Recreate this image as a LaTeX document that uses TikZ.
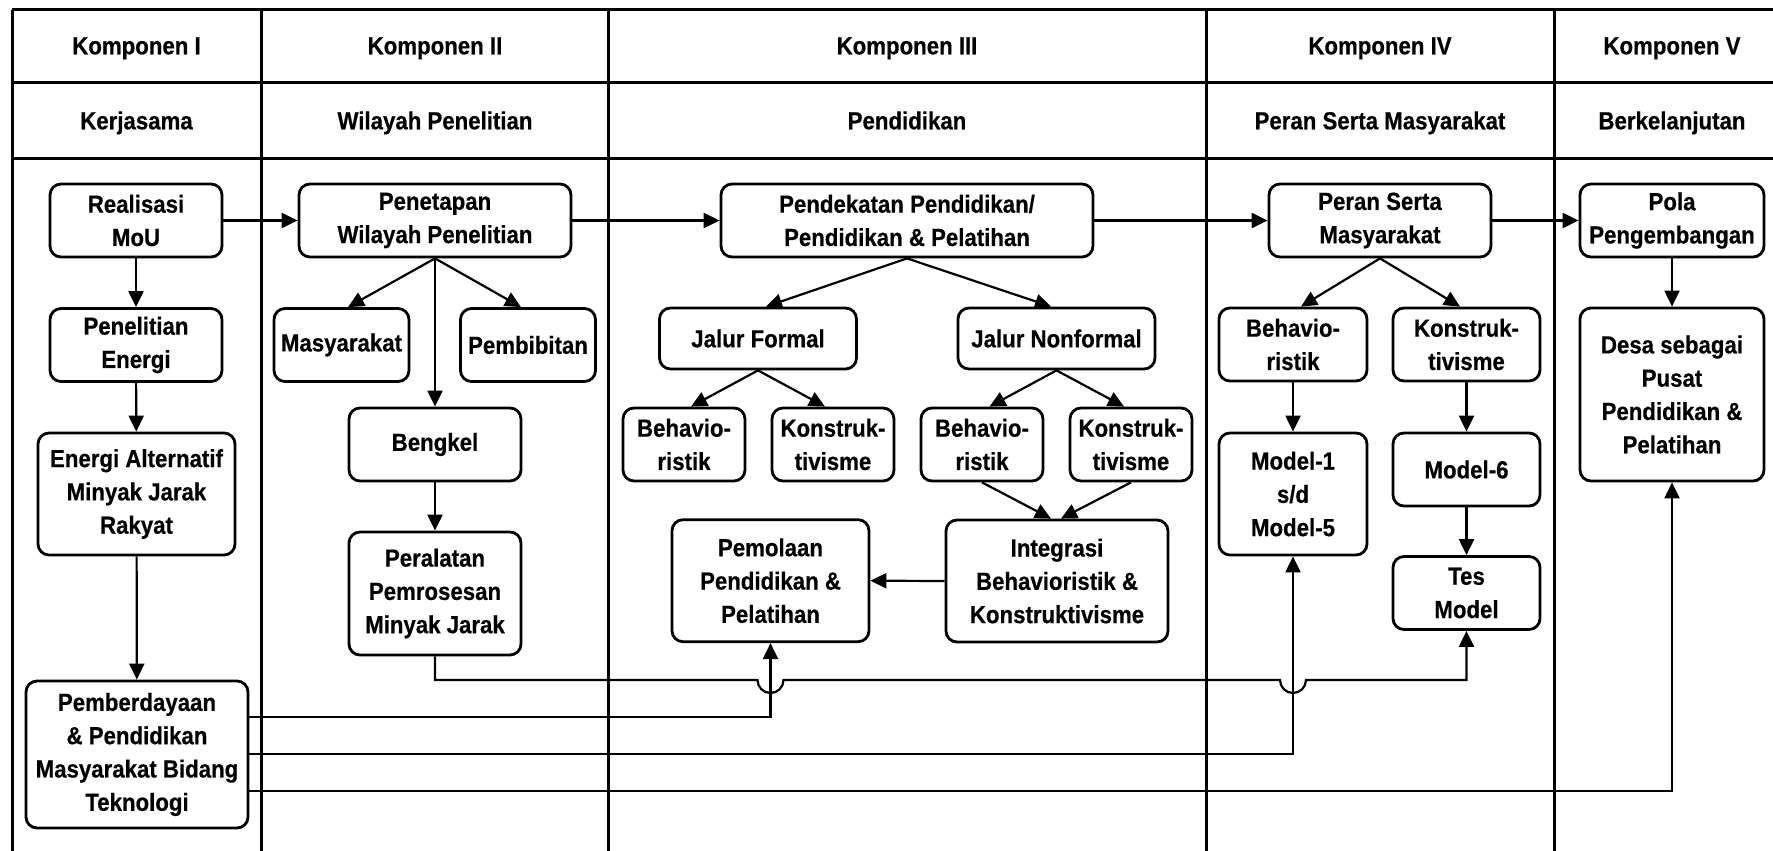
\documentclass[tikz,border=0pt]{standalone}
\usepackage{fontspec}
\newfontfamily\narrowsans{Liberation Sans}[FakeStretch=0.9,FakeBold=0.5]
\usetikzlibrary{arrows.meta,calc}
\newcommand\diagfont{\narrowsans\bfseries\fontsize{24.7pt}{33.3pt}\selectfont}

\begin{document}
\begin{tikzpicture}[x=1pt,y=-1pt,
  frame/.style={line width=3pt},
  box/.style={draw, line width=2.8pt, rounded corners=11pt, align=center,
    inner sep=0pt, font=\diagfont},
  head/.style={font=\diagfont, anchor=base},
  link/.style={line width=2.2pt, -{Triangle[length=16pt,width=15pt]}},
]
\useasboundingbox (0,0) rectangle (1773,851);

% table frame
\draw[frame] (12,10) -- (1792,10);
\draw[frame] (12,83) -- (1792,83);
\draw[frame] (12,158) -- (1792,158);
\foreach \cx in {12,261,608,1206,1554,1792}
  \draw[frame] (\cx,10) -- (\cx,858);

% column headings
\node[head] (h1) at (136.5,54.3) {Komponen I};
\node[head] (h2) at (435,54.3) {Komponen II};
\node[head] (h3) at (907,54.3) {Komponen III};
\node[head] (h4) at (1380,54.3) {Komponen IV};
\node[head] (h5) at (1672,54.3) {Komponen V};
\node[head] (s1) at (136.5,129.3) {Kerjasama};
\node[head] (s2) at (435,129.3) {Wilayah Penelitian};
\node[head] (s3) at (907,129.3) {Pendidikan};
\node[head] (s4) at (1380,129.3) {Peran Serta Masyarakat};
\node[head] (s5) at (1672,129.3) {Berkelanjutan};

% Komponen I
\node[box, minimum width=172, minimum height=73] (mou) at (136,220.5) {Realisasi\\MoU};
\node[box, minimum width=172, minimum height=73] (pen) at (136,345) {Penelitian\\Energi};
\node[box, minimum width=197, minimum height=122] (ener) at (136.5,494) {Energi Alternatif\\Minyak Jarak\\Rakyat};
\node[box, minimum width=222, minimum height=147] (pemb) at (137,754.5) {Pemberdayaan\\\& Pendidikan\\Masyarakat Bidang\\Teknologi};

% Komponen II
\node[box, minimum width=272, minimum height=73] (pwp) at (435,220.5) {Penetapan\\Wilayah Penelitian};
\node[box, minimum width=135, minimum height=73] (masy) at (341.5,345) {Masyarakat};
\node[box, minimum width=135, minimum height=73] (bibit) at (528,345) {Pembibitan};
\node[box, minimum width=172, minimum height=73] (bengkel) at (435,444.5) {Bengkel};
\node[box, minimum width=172, minimum height=123] (peral) at (435,593.5) {Peralatan\\Pemrosesan\\Minyak Jarak};

% Komponen III
\node[box, minimum width=372, minimum height=73] (pend) at (907,220.5) {Pendekatan Pendidikan/\\Pendidikan \& Pelatihan};
\node[box, minimum width=197, minimum height=61] (jf) at (758,338.5) {Jalur Formal};
\node[box, minimum width=197, minimum height=61] (jn) at (1056.5,338.5) {Jalur Nonformal};
\node[box, minimum width=122, minimum height=73] (fb) at (684,444.5) {Behavio-\\ristik};
\node[box, minimum width=122, minimum height=73] (fk) at (833,444.5) {Konstruk-\\tivisme};
\node[box, minimum width=122, minimum height=73] (nb) at (982,444.5) {Behavio-\\ristik};
\node[box, minimum width=122, minimum height=73] (nk) at (1131,444.5) {Konstruk-\\tivisme};
\node[box, minimum width=197, minimum height=122] (pemol) at (770.5,580.7) {Pemolaan\\Pendidikan \&\\Pelatihan};
\node[box, minimum width=222, minimum height=122] (integ) at (1057,581) {Integrasi\\Behavioristik \&\\Konstruktivisme};

% Komponen IV
\node[box, minimum width=222, minimum height=73] (psm) at (1380,220.5) {Peran Serta\\Masyarakat};
\node[box, minimum width=148, minimum height=73] (mb) at (1293,344.5) {Behavio-\\ristik};
\node[box, minimum width=147, minimum height=73] (mk) at (1466.5,344.5) {Konstruk-\\tivisme};
\node[box, minimum width=148, minimum height=122] (m15) at (1293,494) {Model-1\\s/d\\Model-5};
\node[box, minimum width=147, minimum height=73] (m6) at (1466.5,469.5) {Model-6};
\node[box, minimum width=147, minimum height=73] (tes) at (1466.5,593) {Tes\\Model};

% Komponen V
\node[box, minimum width=184, minimum height=73] (pola) at (1672,220.5) {Pola\\Pengembangan};
\node[box, minimum width=184, minimum height=173] (desa) at (1672,394.5) {Desa sebagai\\Pusat\\Pendidikan \&\\Pelatihan};

% main flow across the components
\draw[link] (mou.east) -- (pwp.west);
\draw[link] (pwp.east) -- (pend.west);
\draw[link] (pend.east) -- (psm.west);
\draw[link] (psm.east) -- (pola.west);

% Komponen I chain
\draw[link] (mou) -- (pen);
\draw[link] (pen) -- (ener);
\draw[link] (ener) -- (pemb);

% Komponen II branches
\draw[link] (pwp.south) -- ($(masy.north)+(6.5,0)$);
\draw[link] (pwp.south) -- ($(bibit.north)+(-7,0)$);
\draw[link] (pwp) -- (bengkel);
\draw[link] (bengkel) -- (peral);

% Komponen III branches
\draw[link] (pend.south) -- ($(jf.north)+(8,0)$);
\draw[link] (pend.south) -- ($(jn.north)+(-5.5,0)$);
\draw[link] (jf.south) -- ($(fb.north)+(7,0)$);
\draw[link] (jf.south) -- ($(fk.north)+(-8,0)$);
\draw[link] (jn.south) -- ($(nb.north)+(7.5,0)$);
\draw[link] (jn.south) -- ($(nk.north)+(-7,0)$);
\draw[link] (nb.south) -- ($(integ.north)+(-6,0)$);
\draw[link] (nk.south) -- ($(integ.north)+(4,0)$);
\draw[link] (integ.west) -- (pemol.east);

% Komponen IV branches
\draw[link] (psm.south) -- ($(mb.north)+(8,0)$);
\draw[link] (psm.south) -- ($(mk.north)+(-6.5,0)$);
\draw[link] (mb) -- (m15);
\draw[link] (mk) -- (m6);
\draw[link] (m6) -- (tes);

% Komponen V
\draw[link] (pola) -- (desa);

% bottom bus lines
\coordinate (busA) at (0,680);
\coordinate (busB) at (0,717);
\coordinate (busC) at (0,754.3);
\coordinate (busD) at (0,791);

\draw[link] (peral.south) -- (peral.south |- busA)
  -- ($(pemol.south |- busA)+(-13,0)$) arc[start angle=180,end angle=360,radius=13pt]
  -- ($(m15.south |- busA)+(-13,0)$) arc[start angle=180,end angle=360,radius=13pt]
  -- (tes.south |- busA) -- (tes.south);
\draw[link] (pemb.east |- busB) -- (pemol.south |- busB) -- (pemol.south);
\draw[link] (pemb.east |- busC) -- (m15.south |- busC) -- (m15.south);
\draw[link] (pemb.east |- busD) -- (desa.south |- busD) -- (desa.south);

\end{tikzpicture}
\end{document}
